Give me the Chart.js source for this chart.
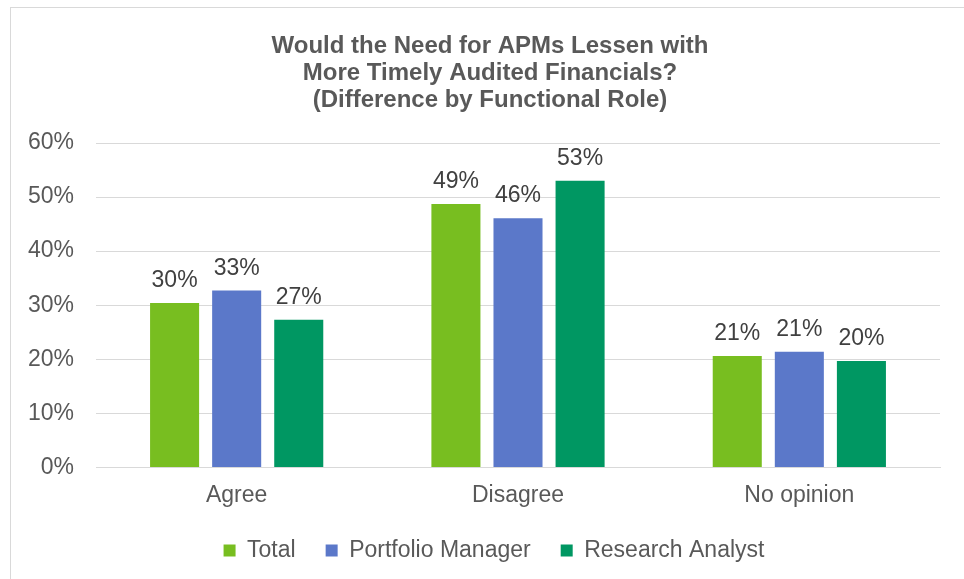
<!DOCTYPE html>
<html>
<head>
<meta charset="utf-8">
<script src="https://cdn.jsdelivr.net/npm/chart.js@4"></script>
<style>
  html, body { margin: 0; padding: 0; background: #fff; }
  #frame {
    position: absolute; left: 10px; top: 7px; width: 964px; height: 590px;
    border: 1px solid #d9d9d9; box-sizing: border-box;
  }
  #wrap { position: absolute; left: 0; top: 0; width: 964px; height: 579px; }
</style>
</head>
<body>
<div id="frame"></div>
<div id="wrap"><canvas id="chart"></canvas></div>
<script>
// данные
const categories = ["Agree", "Disagree", "No opinion"];
const seriesNames = ["Total", "Portfolio Manager", "Research Analyst"];
const totalValues = [30.4, 48.7, 20.6];
const managerValues = [32.7, 46.1, 21.4];
const analystValues = [27.3, 53.0, 19.7];
const yTicks = [0, 10, 20, 30, 40, 50, 60];
const titleLines = [
  "Would the Need for APMs Lessen with",
  "More Timely Audited Financials?",
  "(Difference by Functional Role)",
];

const colors = ["#78be20", "#5b78c9", "#009762"];
const FONT = "'Liberation Sans', Arial, sans-serif";

// подписи над столбцами
const barLabels = {
  id: "barLabels",
  afterDatasetsDraw(chart) {
    const ctx = chart.ctx;
    ctx.save();
    ctx.font = "23px " + FONT;
    ctx.fillStyle = "#404040";
    ctx.textAlign = "center";
    ctx.textBaseline = "alphabetic";
    chart.data.datasets.forEach((ds, i) => {
      chart.getDatasetMeta(i).data.forEach((bar, j) => {
        ctx.fillText(Math.round(ds.data[j]) + "%", bar.x, bar.y - 16);
      });
    });
    ctx.restore();
  },
};

// сдвиг заголовка и легенды, как в оригинале
const shiftBoxes = {
  id: "shiftBoxes",
  afterLayout(chart) {
    if (chart.titleBlock) chart.titleBlock.left += 40;
    if (chart.legend) {
      chart.legend.left += 48;
      chart.legend.top -= 6;
      chart.legend.bottom -= 6;
    }
  },
};

new Chart(document.getElementById("chart"), {
  type: "bar",
  data: {
    labels: categories,
    datasets: [
      { label: seriesNames[0], data: totalValues, backgroundColor: colors[0] },
      { label: seriesNames[1], data: managerValues, backgroundColor: colors[1] },
      { label: seriesNames[2], data: analystValues, backgroundColor: colors[2] },
    ],
  },
  options: {
    responsive: true,
    maintainAspectRatio: false,
    animation: false,
    categoryPercentage: 0.662,
    barPercentage: 0.79,
    layout: { padding: { left: 0, right: 24, top: 0, bottom: 1 } },
    plugins: {
      title: {
        display: true,
        text: titleLines,
        color: "#595959",
        font: { family: FONT, size: 24, weight: "bold", lineHeight: 1.125 },
        padding: { top: 33, bottom: 29 },
      },
      legend: {
        position: "bottom",
        labels: {
          color: "#595959",
          font: { family: FONT, size: 23 },
          boxWidth: 12,
          boxHeight: 12,
          padding: 30,
        },
      },
      tooltip: { enabled: false },
    },
    scales: {
      x: {
        grid: { display: false },
        border: { display: true, color: "#d9d9d9", width: 1 },
        ticks: { color: "#595959", font: { family: FONT, size: 23 }, padding: 6 },
      },
      y: {
        min: 0,
        max: 60,
        afterBuildTicks(scale) {
          scale.ticks = yTicks.map((v) => ({ value: v }));
        },
        afterFit(scale) {
          scale.width = 96;
        },
        grid: { color: "#d9d9d9", lineWidth: 1, drawTicks: false },
        border: { display: false },
        ticks: {
          color: "#595959",
          font: { family: FONT, size: 23 },
          padding: 22,
          callback: (v) => v + "%",
        },
      },
    },
  },
  plugins: [barLabels, shiftBoxes],
});
</script>
</body>
</html>
